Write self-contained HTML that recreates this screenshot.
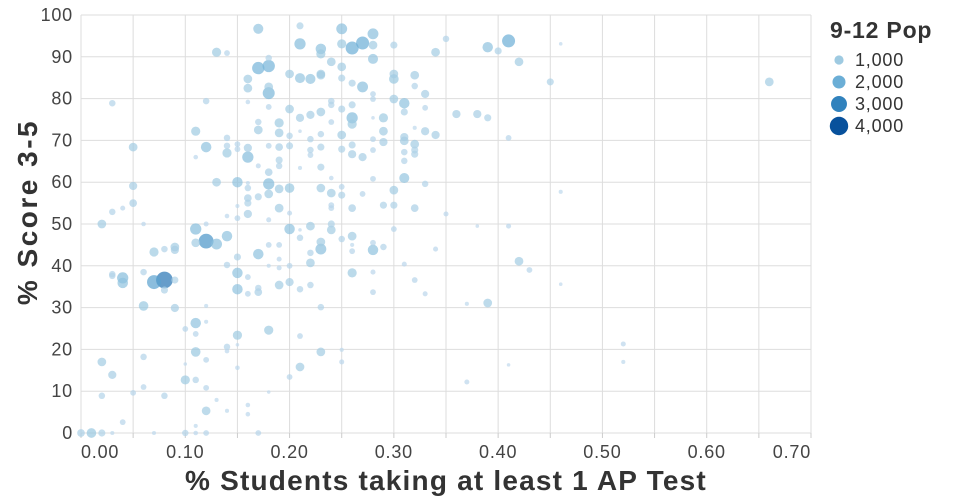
<!DOCTYPE html>
<html><head><meta charset="utf-8"><style>
body{margin:0;background:#fff;}
svg{display:block;font-family:"Liberation Sans",sans-serif;}
</style></head><body>
<svg id="chart" width="960" height="500" viewBox="0 0 960 500" xmlns="http://www.w3.org/2000/svg">
<g id="grid"></g>
<g id="xaxis"></g>
<g id="yaxis"></g>
<g id="points"></g>
<text x="446" y="490" text-anchor="middle" font-size="28" font-weight="bold" fill="#333" letter-spacing="1.2">% Students taking at least 1 AP Test</text>
<text transform="translate(37,212) rotate(-90)" text-anchor="middle" font-size="28" font-weight="bold" fill="#333" letter-spacing="2.5">% Score 3-5</text>
<g id="legend">
<text x="830" y="38" font-size="23" font-weight="bold" fill="#333" letter-spacing="0.8">9-12 Pop</text>
</g>
</svg>
<script>
const xs=[.17,.21,.21,.23,.23,.13,.14,.17,.18,.18,.20,.21,.22,.23,.16,.16,.18,.18,.03,.12,.16,.18,.20,.21,.22,.23,.11,.17,.17,.19,.19,.20,.21,.22,.23,.05,.12,.14,.14,.14,.15,.15,.16,.16,.18,.19,.20,.22,.22,.23,.11,.17,.19,.19,.21,.23,.13,.15,.16,.16,.18,.18,.18,.19,.20,.23,.24,.05,.05,.03,.04,.06,.02,.16,.16,.17,.15,.16,.14,.15,.18,.19,.20,.12,.22,.20,.21,.21,.23,.24,.11,.12,.13,.14,.11,.07,.08,.09,.09,.04,.04,.03,.03,.07,.08,.08,.09,.06,.06,.09,.12,.14,.15,.15,.15,.16,.16,.17,.17,.17,.18,.19,.18,.19,.19,.20,.19,.20,.21,.22,.22,.22,.23,.23,.11,.12,.10,.11,.15,.18,.21,.14,.14,.15,.11,.23,.02,.06,.10,.12,.15,.21,.20,.03,.10,.11,.06,.12,.02,.05,.08,.18,.13,.12,.14,.16,.16,.04,.11,0,.01,.02,.03,.07,.10,.11,.12,.17,
.25,.28,.25,.26,.27,.28,.30,.35,.34,.39,.40,.41,.46,.42,.45,.24,.25,.25,.23,.26,.27,.28,.30,.30,.32,.32,.33,.28,.28,.24,.24,.25,.26,.30,.31,.31,.33,.36,.38,.39,.26,.26,.28,.29,.24,.29,.32,.33,.34,.25,.28,.31,.31,.41,.25,.26,.26,.27,.28,.29,.32,.32,.32,.31,.31,.24,.28,.31,.33,.25,.25,.27,.30,.46,.24,.24,.26,.29,.30,.32,.35,.24,.25,.26,.26,.26,.28,.28,.29,.30,.34,.38,.41,.26,.28,.31,.32,.28,.33,.42,.43,.46,.37,.39,.25,.25,.37,.41,.66,.52,.52];
const ys=[96.7,97.4,93.1,91.9,90.7,91.1,90.9,87.3,87.8,89.7,85.9,84.9,84.7,85.9,84.7,82.5,82.8,81.3,78.9,79.4,79.2,78,77.5,75.4,76.1,76.8,72.2,74.4,72.5,74.2,71.8,71.1,72.2,70.3,71.5,68.4,68.4,70.6,68.7,67,69.1,67.9,68.2,66,68.7,68.4,68.7,67.7,66.5,68.4,66,63.9,65.3,63.9,63.4,63.6,60,60,59.8,58.6,62.4,59.6,57.2,58.4,58.6,58.6,57.4,59.1,55,52.9,53.8,50,50,56.2,55,56.5,54.3,52.4,51.9,51.4,51,53.8,52.6,50,49.5,48.8,48.6,46.7,45.7,48.6,48.8,45.9,45.2,47.1,45.5,43.3,44,44.5,43.8,37.1,35.9,38,37.6,36.1,36.6,34.2,36.6,38.5,30.4,29.9,30.4,40.2,42.1,38.3,34.4,37.3,33.3,42.8,34.7,33.7,45,45,40,41.6,39.5,40,35.4,36.1,34.4,43.1,40.7,35.4,44,30.1,26.3,26.6,24.9,23.7,23.4,24.6,23.2,20.6,19.6,21.1,19.4,19.4,17,18.2,16.5,17.5,15.6,15.8,13.4,13.9,12.7,12.7,11,10.8,8.9,9.6,8.9,9.8,7.9,5.3,5.3,6.7,4.5,2.6,1.7,0,0,0,0,0,0,0,0,0,
96.7,95.5,93.1,92.1,93.3,92.8,92.8,94.3,91.1,92.3,91.4,93.8,93.1,88.8,84,88.8,87.6,84.9,85.6,83.7,82.8,89.5,85.9,84.7,85.6,83,81.1,81.1,79.9,79.4,78.5,77.5,78.5,79.9,78.9,76.8,77.8,76.3,76.3,75.4,75.4,73.9,75.4,75.4,74.4,72.2,73,72.2,71.3,71.3,70.3,70.8,69.9,70.6,67.9,68.9,66.7,66,67.7,69.6,69.1,67.7,66.7,67.2,65.1,61,60.8,61,59.6,58.9,56.9,57.2,58.1,57.7,54.5,53.8,53.8,54.5,54.5,53.8,52.4,50,46.4,47.1,45,43.5,45.5,43.8,44.5,48.8,44,49.5,49.5,38.3,38.5,40.4,36.6,33.7,33.3,41.1,39,35.6,30.9,31.1,19.9,17,12.2,16.3,84,21.3,17];
const pops=[1200,600,1500,1300,1000,1000,400,1800,1800,500,900,1200,1200,900,900,900,900,1700,500,500,250,400,900,800,800,900,1000,500,900,1000,900,500,150,500,500,900,1300,500,500,1000,400,400,800,1500,400,700,600,500,400,600,250,300,600,500,200,600,900,1300,200,500,700,1500,900,900,1100,900,900,800,700,500,300,250,900,700,600,600,200,800,250,400,300,900,300,300,900,1300,150,500,900,900,1500,2600,1400,1300,900,1000,500,900,800,1500,1300,500,500,2300,3300,600,600,500,1100,800,200,500,600,1300,1300,400,400,1300,500,700,400,400,200,300,300,400,900,800,500,500,900,500,1400,500,1300,200,400,400,1000,1000,400,500,250,150,1100,900,900,500,150,400,250,900,400,800,1000,500,400,400,500,400,500,150,200,900,200,250,250,400,200,700,1100,600,200,200,500,250,400,400,
1400,1400,1000,2000,2000,900,600,500,900,1300,600,2000,150,900,600,900,900,600,900,600,1400,1200,900,1100,900,500,800,400,400,500,500,600,600,900,1300,600,400,800,800,600,1500,1000,150,1000,400,900,200,800,800,900,400,800,900,400,600,600,800,800,400,800,900,600,600,500,500,250,400,1200,500,400,600,400,900,200,400,400,700,600,600,700,300,600,500,900,200,400,400,1300,500,400,300,150,300,1000,300,300,400,400,300,900,400,150,200,900,200,300,300,150,900,300,200];
const xTicks=[0,0.1,0.2,0.3,0.4,0.5,0.6,0.7];
const xTickLabels=["0.00","0.10","0.20","0.30","0.40","0.50","0.60","0.70"];
const yTicks=[0,10,20,30,40,50,60,70,80,90,100];
const legendValues=[1000,2000,3000,4000];
const legendLabels=["1,000","2,000","3,000","4,000"];

const NS="http://www.w3.org/2000/svg";
const L=81,R=811,T=15,B=433;
function xScale(v){return L+(v-0)/(0.7-0)*(R-L);}
function yScale(v){return B-(v/100)*(B-T);}
function rScale(p){return 4.6*Math.sqrt(p/1000);}
const cStops=[[0,[198,219,239]],[1000,[158,202,225]],[2000,[107,174,214]],[3000,[49,130,189]],[4000,[8,81,156]]];
function cScale(p){
  for(let i=0;i<cStops.length-1;i++){const a=cStops[i],b=cStops[i+1];
    if(p<=b[0]||i==cStops.length-2){const t=Math.max(0,Math.min(1,(p-a[0])/(b[0]-a[0])));
      const c=a[1].map((v,k)=>Math.round(v+(b[1][k]-v)*t));return `rgb(${c.join(',')})`;}}
}
function mk(tag,attrs,parent){const e=document.createElementNS(NS,tag);for(const k in attrs)e.setAttribute(k,attrs[k]);parent.appendChild(e);return e;}
const grid=document.getElementById('grid'),xa=document.getElementById('xaxis'),ya=document.getElementById('yaxis'),pts=document.getElementById('points'),lg=document.getElementById('legend');
for(let v=0;v<=0.7001;v+=0.05){
  const x=xScale(v);
  const g=mk('line',{x1:x,x2:x,y1:T,y2:B,stroke:'#ddd','stroke-width':1},grid);
  
  
  const t=mk('line',{x1:x,x2:x,y1:B,y2:B+5,stroke:'#ccc','stroke-width':1},xa);
  
  
}
yTicks.forEach(v=>{
  const y=yScale(v);
  const g=mk('line',{x1:L,x2:R,y1:y,y2:y,stroke:'#ddd','stroke-width':1},grid);
  
  
  const t=mk('text',{x:L-8,y:y+6,'text-anchor':'end','font-size':18,fill:'#444','letter-spacing':0.8},ya);
  
  
  t.textContent=String(v);
});
xTicks.forEach((v,i)=>{
  const x=xScale(v);
  const anchor=i==0?'start':(i==xTicks.length-1?'end':'middle');
  const t=mk('text',{x:x,y:458,'text-anchor':anchor,'font-size':18,fill:'#444','letter-spacing':0.8},xa);
  
  
  t.textContent=xTickLabels[i];
});
const order=pops.map((p,i)=>i).sort((a,b)=>pops[b]-pops[a]);
order.forEach(i=>{
  const c=mk('circle',{cx:xScale(xs[i]),cy:yScale(ys[i]),r:rScale(pops[i]),fill:cScale(pops[i]),'fill-opacity':0.7},pts);
  
  
});
legendValues.forEach((v,i)=>{
  const y=60+i*22;
  const c=mk('circle',{cx:839,cy:y,r:rScale(v),fill:cScale(v)},lg);
  
  
  const t=mk('text',{x:855,y:y+6,'font-size':18,fill:'#333','letter-spacing':0.8},lg);
  
  
  t.textContent=legendLabels[i];
});
</script>
</body></html>
